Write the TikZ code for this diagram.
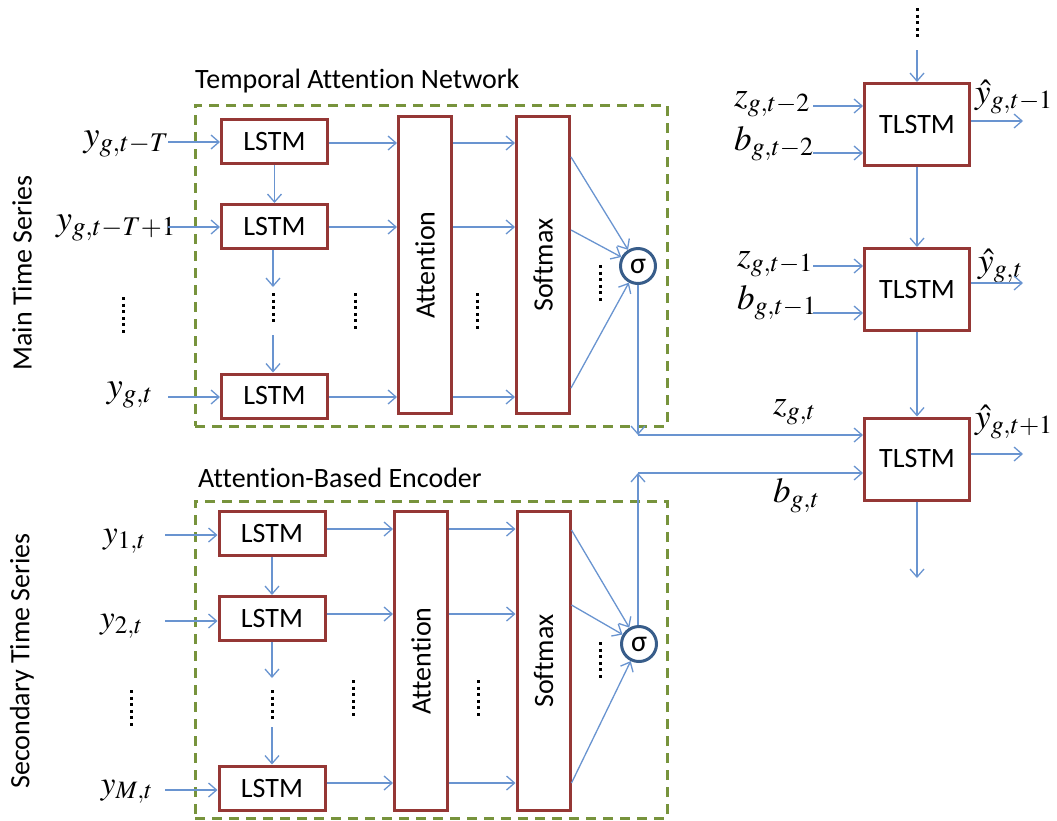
\documentclass[tikz,border=0pt]{standalone}
\usepackage{mathptmx}
\usepackage[no-math]{fontspec}
\setmainfont{Carlito}[Ligatures=NoCommon]
\DeclareMathSizes{33}{33}{25}{18}
\DeclareMathSizes{35}{35}{26}{19}
\DeclareMathSizes{36}{36}{27}{20}
\usetikzlibrary{arrows.meta}
\definecolor{boxred}{RGB}{149,55,53}
\definecolor{arrblue}{RGB}{105,148,208}
\definecolor{dgreen}{RGB}{119,147,60}
\definecolor{sigblue}{RGB}{56,93,138}
\tikzset{
  lstmbox/.style={draw=boxred, line width=3pt, fill=white, minimum width=106pt, minimum height=44pt, inner sep=0pt, font=\fontsize{28}{30}\selectfont},
  tallbox/.style={draw=boxred, line width=3pt, fill=white, minimum width=53pt, minimum height=297pt, inner sep=0pt, font=\fontsize{28}{30}\selectfont},
  tlbox/.style={draw=boxred, line width=3pt, fill=white, minimum width=105pt, minimum height=82pt, inner sep=0pt, font=\fontsize{28}{30}\selectfont},
  sig/.style={circle, draw=sigblue, line width=3pt, fill=white, minimum size=35pt, inner sep=0pt, font=\fontsize{30}{32}\selectfont},
  arr/.style={draw=arrblue, line width=1.3pt, -{Straight Barb[length=8pt,width=14pt]}},
  dashbox/.style={draw=dgreen, line width=3pt, dash pattern=on 10pt off 7pt, inner sep=0pt},
  vdots/.style={draw=black, line width=3pt, dash pattern=on 3pt off 3.6pt},
  labL/.style={font=\fontsize{36}{38}\selectfont, inner sep=0pt},
  labS/.style={font=\fontsize{33}{35}\selectfont, inner sep=0pt},
  labR/.style={font=\fontsize{35}{37}\selectfont, inner sep=0pt},
  ttl/.style={font=\fontsize{28}{30}\selectfont, inner sep=0pt},
  side/.style={font=\fontsize{28}{30}\selectfont, inner sep=0pt, rotate=90}
}
\begin{document}
\begin{tikzpicture}[x=1pt,y=-1pt]
\useasboundingbox (0,0) rectangle (1057,820);
% dashed group boxes
\node[dashbox, minimum width=472pt, minimum height=321pt] (tan) at (431,265.5) {};
\node[dashbox, minimum width=472pt, minimum height=317pt] (abe) at (431,659.5) {};
\node[ttl, anchor=base west] (tant) at (195,88) {Temporal Attention Network};
\node[ttl, anchor=base west] (abet) at (198,487) {Attention-Based Encoder};
\node[side] (mts) at (22,273) {Main Time Series};
\node[side] (sts) at (22,661) {Secondary Time Series};

% top panel
\node[lstmbox] (L1) at (274.5,141.5) {LSTM};
\node[lstmbox] (L2) at (274.5,226.5) {LSTM};
\node[lstmbox] (L3) at (274.5,396) {LSTM};
\node[tallbox] (A1) at (425,265) {\rotatebox{90}{Attention}};
\node[tallbox] (S1) at (543,265) {\rotatebox{90}{Softmax}};
\node[sig] (s1) at (638,266) {σ};

% bottom panel
\node[lstmbox] (M1) at (272,533.5) {LSTM};
\node[lstmbox] (M2) at (272,618.5) {LSTM};
\node[lstmbox] (M3) at (272,788) {LSTM};
\node[tallbox, minimum height=299pt] (A2) at (421,661) {\rotatebox{90}{Attention}};
\node[tallbox, minimum height=299pt] (S2) at (543.5,661) {\rotatebox{90}{Softmax}};
\node[sig] (s2) at (639,644) {σ};

% TLSTM column
\node[tlbox] (T1) at (917,124.5) {TLSTM};
\node[tlbox] (T2) at (917,289.5) {TLSTM};
\node[tlbox] (T3) at (917,459) {TLSTM};

% input labels
\node[labL, anchor=base east] (iy1) at (169,146) {$y_{g,t-T}$};
\node[labL, anchor=base east] (iy2) at (176,230) {$y_{g,t-T+1}$};
\node[labL, anchor=base east] (iy3) at (153,397) {$y_{g,t}$};
\node[labS, anchor=base east] (jy1) at (146,543) {$y_{1,t}$};
\node[labS, anchor=base east] (jy2) at (143,628) {$y_{2,t}$};
\node[labS, anchor=base east] (jy3) at (153,794) {$y_{M,t}$};
\node[labR, anchor=base west] (z1) at (734,106) {$z_{g,t-2}$};
\node[labR, anchor=base west] (b1) at (734,150) {$b_{g,t-2}$};
\node[labR, anchor=base west] (z2) at (737,266) {$z_{g,t-1}$};
\node[labR, anchor=base west] (b2) at (737,309) {$b_{g,t-1}$};
\node[labR, anchor=base west] (z3) at (773,414) {$z_{g,t}$};
\node[labR, anchor=base west] (b3) at (773,502) {$b_{g,t}$};
\node[labR, anchor=base west] (h1) at (975,103) {$\hat{y}_{g,t-1}$};
\node[labR, anchor=base west] (h2) at (978,272) {$\hat{y}_{g,t}$};
\node[labR, anchor=base west] (h3) at (975,428) {$\hat{y}_{g,t+1}$};

% free ends
\coordinate (a1) at (168,142);
\coordinate (a2) at (168,227);
\coordinate (a3) at (168,397);
\coordinate (c1) at (165,535);
\coordinate (c2) at (165,621);
\coordinate (c3) at (165,790);
\coordinate (g1) at (273,287);
\coordinate (g2) at (273,335);
\coordinate (g3) at (272,678);
\coordinate (g4) at (272,727);
\coordinate (zi1) at (813,106);
\coordinate (bi1) at (813,153);
\coordinate (zi2) at (813,266);
\coordinate (bi2) at (813,313);
\coordinate (o1) at (1023,121);
\coordinate (o2) at (1023,283);
\coordinate (o3) at (1023,454);
\coordinate (tin) at (917,50);
\coordinate (tout) at (917,578);
\coordinate (zc) at (638,435);
\coordinate (bc) at (638,473);

% dots
\draw[vdots] (123,297) -- (123,334);
\draw[vdots] (273,293) -- (273,326);
\draw[vdots] (355,293) -- (355,330);
\draw[vdots] (477,293) -- (477,330);
\draw[vdots] (600,265) -- (600,302);
\draw[vdots] (131,690) -- (131,726);
\draw[vdots] (272,690) -- (272,720);
\draw[vdots] (353,680) -- (353,717);
\draw[vdots] (478,680) -- (478,717);
\draw[vdots] (600,642) -- (600,679);
\draw[vdots] (917,8) -- (917,38);

% top panel arrows
\draw[arr] (a1) -- (a1 -| L1.west);
\draw[arr] (a2) -- (a2 -| L2.west);
\draw[arr] (a3) -- (a3 -| L3.west);
\draw[arr] (L1.south) -- (L2.north);
\draw[arr] (L2.south -| g1) -- (g1);
\draw[arr] (g2) -- (g2 |- L3.north);
\foreach \n/\y in {1/143,2/227,3/397}{
  \draw[arr] (L\n.east |- 0,\y) -- (A1.west |- 0,\y);
  \draw[arr] (A1.east |- 0,\y) -- (S1.west |- 0,\y);
}
\draw[arr] (S1.east |- 0,157) -- (s1);
\draw[arr] (S1.east |- 0,230) -- (s1);
\draw[arr] (S1.east |- 0,388) -- (s1);
\draw[arr] (s1.south) -- (zc);
\draw[arr] (zc) -- (zc -| T3.west);

% bottom panel arrows
\draw[arr] (c1) -- (c1 -| M1.west);
\draw[arr] (c2) -- (c2 -| M2.west);
\draw[arr] (c3) -- (c3 -| M3.west);
\draw[arr] (M1.south) -- (M2.north);
\draw[arr] (M2.south -| g3) -- (g3);
\draw[arr] (g4) -- (g4 |- M3.north);
\foreach \n/\y in {1/529,2/614,3/783}{
  \draw[arr] (M\n.east |- 0,\y) -- (A2.west |- 0,\y);
  \draw[arr] (A2.east |- 0,\y) -- (S2.west |- 0,\y);
}
\draw[arr] (S2.east |- 0,530) -- (s2);
\draw[arr] (S2.east |- 0,605) -- (s2);
\draw[arr] (S2.east |- 0,783) -- (s2);
\draw[arr] (s2.north -| bc) -- (bc);
\draw[arr] (bc) -- (bc -| T3.west);

% TLSTM arrows
\draw[arr] (tin) -- (tin |- T1.north);
\draw[arr] (T1.south) -- (T2.north);
\draw[arr] (T2.south) -- (T3.north);
\draw[arr] (T3.south) -- (tout);
\draw[arr] (zi1) -- (zi1 -| T1.west);
\draw[arr] (bi1) -- (bi1 -| T1.west);
\draw[arr] (zi2) -- (zi2 -| T2.west);
\draw[arr] (bi2) -- (bi2 -| T2.west);
\draw[arr] (o1 -| T1.east) -- (o1);
\draw[arr] (o2 -| T2.east) -- (o2);
\draw[arr] (o3 -| T3.east) -- (o3);
\end{tikzpicture}
\end{document}
